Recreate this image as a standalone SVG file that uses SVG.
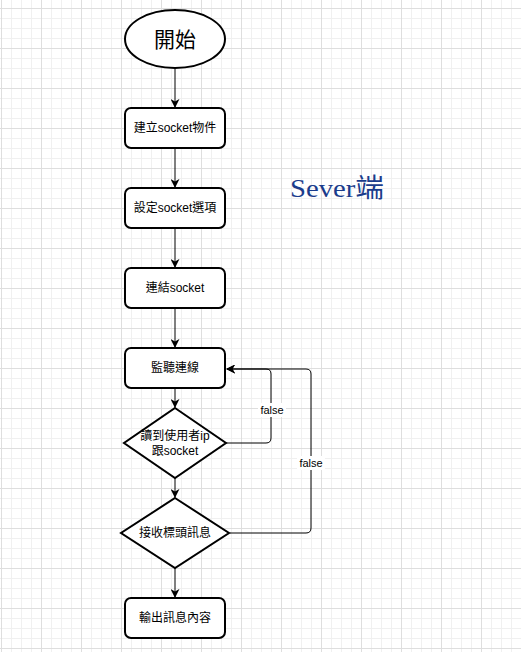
<svg xmlns="http://www.w3.org/2000/svg" width="521" height="652" viewBox="0 0 521 652">
<defs>
<pattern id="minor" x="1" y="8" width="10" height="10" patternUnits="userSpaceOnUse">
<path d="M0 0.5H10M0.5 0V10" fill="none" stroke="#f0f0f0" stroke-width="1"/>
</pattern>
<pattern id="major" x="1" y="8" width="40" height="40" patternUnits="userSpaceOnUse">
<path d="M0 0.5H40M0.5 0V40" fill="none" stroke="#dedede" stroke-width="1"/>
</pattern>
<marker id="arr" viewBox="0 0 10 10" refX="9" refY="5" markerWidth="9" markerHeight="9" markerUnits="userSpaceOnUse" orient="auto">
<path d="M0 0L10 5L0 10L3 5Z" fill="#000"/>
</marker>
</defs>
<style>
.node{fill:#fff;stroke:#000;stroke-width:2}
.t{font-family:"Helvetica","Liberation Sans","Noto Sans CJK TC",sans-serif;font-size:12px;fill:#000;text-anchor:middle}
.c{fill:none;stroke:#000;stroke-width:1}
.lbl{font-family:"Helvetica","Liberation Sans",sans-serif;font-size:11px;fill:#000;text-anchor:middle}
</style>
<rect width="521" height="652" fill="#fff"/>
<rect width="521" height="652" fill="url(#minor)"/>
<rect width="521" height="652" fill="url(#major)"/>

<g id="connectors">
<path class="c" d="M175 69V107" marker-end="url(#arr)"/>
<path class="c" d="M175 149V187" marker-end="url(#arr)"/>
<path class="c" d="M175 229V267" marker-end="url(#arr)"/>
<path class="c" d="M175 309V347" marker-end="url(#arr)"/>
<path class="c" d="M175 389V407" marker-end="url(#arr)"/>
<path class="c" d="M175 478V497" marker-end="url(#arr)"/>
<path class="c" d="M175 568V597" marker-end="url(#arr)"/>
<path class="c" d="M226 443H266Q271 443 271 438V374Q271 369 266 369H227" marker-end="url(#arr)"/>
<path class="c" d="M230 533H306Q311 533 311 528V374Q311 369 306 369H227" marker-end="url(#arr)"/>
<rect x="258" y="403" width="28" height="14" fill="#fff"/>
<text class="lbl" x="272" y="414">false</text>
<rect x="297" y="456" width="28" height="14" fill="#fff"/>
<text class="lbl" x="311" y="467">false</text>
</g>

<g id="start">
<ellipse class="node" cx="175" cy="39" rx="50" ry="29"/>
<text class="t" x="175" y="47" style="font-size:21px">開始</text>
</g>
<g id="create">
<rect class="node" x="125" y="108" width="100" height="40" rx="6"/>
<text class="t" x="175" y="132">建立socket物件</text>
</g>
<g id="setopt">
<rect class="node" x="125" y="188" width="100" height="40" rx="6"/>
<text class="t" x="175" y="212">設定socket選項</text>
</g>
<g id="bind">
<rect class="node" x="125" y="268" width="100" height="40" rx="6"/>
<text class="t" x="175" y="292">連結socket</text>
</g>
<g id="listen">
<rect class="node" x="125" y="348" width="100" height="40" rx="6"/>
<text class="t" x="175" y="372">監聽連線</text>
</g>
<g id="accept">
<path class="node" d="M175 408L226 443L175 478L124 443Z"/>
<text class="t" x="175" y="440">讀到使用者ip</text>
<text class="t" x="175" y="455">跟socket</text>
</g>
<g id="recvheader">
<path class="node" d="M175 498L229 533L175 568L121 533Z"/>
<text class="t" x="175" y="537">接收標頭訊息</text>
</g>
<g id="output">
<rect class="node" x="125" y="598" width="100" height="40" rx="6"/>
<text class="t" x="175" y="622">輸出訊息內容</text>
</g>
<g id="title">
<text x="290" y="197" style="font-family:'Liberation Serif','Noto Sans CJK TC',serif;font-size:26px;fill:#1a3c8c" textLength="94" lengthAdjust="spacingAndGlyphs">Sever端</text>
</g>
</svg>
